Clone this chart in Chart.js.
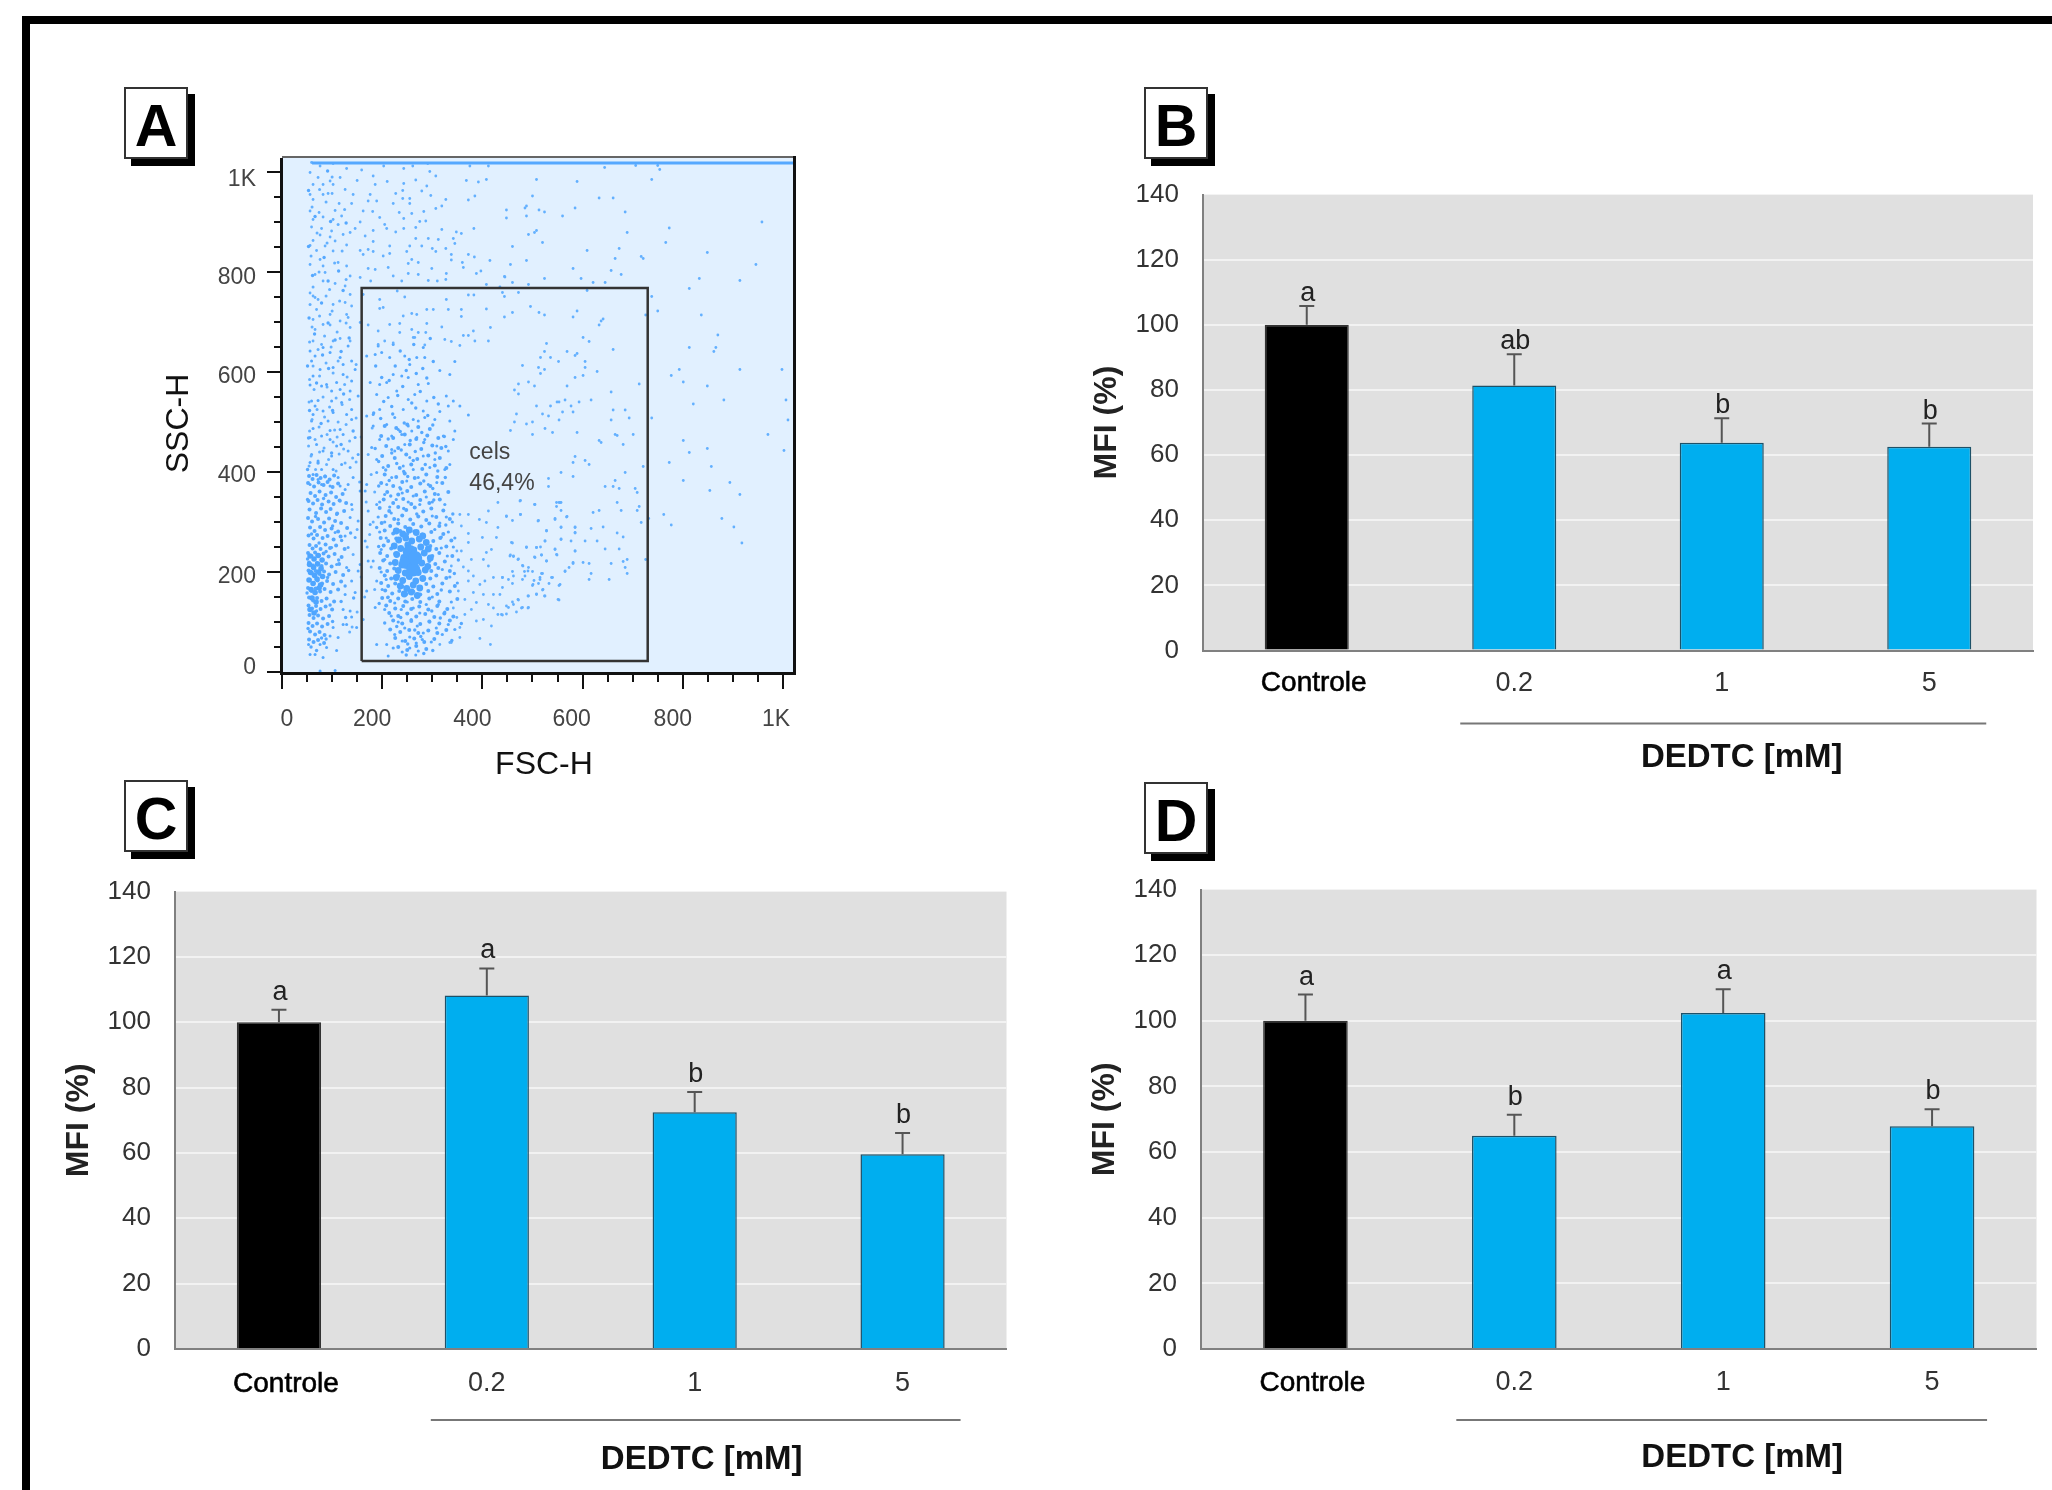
<!DOCTYPE html>
<html>
<head>
<meta charset="utf-8">
<title>MFI DEDTC</title>
<script src="https://cdn.jsdelivr.net/npm/chart.js@4"></script>
<style>
html, body { margin: 0; padding: 0; background: #fff; }
body { position: relative; width: 2052px; height: 1490px; overflow: hidden; font-family: "Liberation Sans", Arial, sans-serif; }
canvas { position: absolute; }
#frame { position: absolute; left: 22px; top: 16px; right: 0; bottom: 0; border-left: 8px solid #000; border-top: 8px solid #000; }
.tag { position: absolute; box-sizing: border-box; width: 64px; height: 72px; background: #fff; border: 2px solid #333; box-shadow: 7px 7px 0 #000; font-weight: bold; font-size: 59px; line-height: 74px; text-align: center; color: #000; }
</style>
</head>
<body>
<div id="frame"></div>
<div class="tag" style="left:124px;top:87px">A</div>
<div class="tag" style="left:1144px;top:87px">B</div>
<div class="tag" style="left:124px;top:780px">C</div>
<div class="tag" style="left:1144px;top:782px">D</div>
<canvas id="panelA" width="740" height="660" style="left:100px;top:131px"></canvas>
<canvas id="panelB" width="964" height="635" style="left:1088px;top:155px"></canvas>
<canvas id="panelC" width="960" height="638" style="left:60px;top:852px"></canvas>
<canvas id="panelD" width="966" height="640" style="left:1086px;top:850px"></canvas>
<script>
// bar panels
const categories = ['Controle', '0.2', '1', '5'];
const mfiB = [100, 81.4, 63.8, 62.6];
const errTopB = [105.8, 91, 71.3, 69.7];
const lettersB = ['a', 'ab', 'b', 'b'];
const mfiC = [100, 108.2, 72.5, 59.6];
const errTopC = [103.8, 116.5, 78.7, 66.1];
const lettersC = ['a', 'a', 'b', 'b'];
const mfiD = [100, 65, 102.4, 67.9];
const errTopD = [108, 71.4, 109.6, 73.1];
const lettersD = ['a', 'b', 'a', 'b'];

// scatter panel
const fscTicks = [0, 200, 400, 600, 800, 1000];
const sscTicks = [0, 200, 400, 600, 800, 1000];
const scatterTickLabels = ['0', '200', '400', '600', '800', '1K'];
const gateCorners = [[159, 22], [730, 22], [730, 768], [159, 768], [159, 22]];
const saturatedEdge = [[60, 1018], [1024, 1018]];
// single dots, read region by region from crops of the plot
const eventsUpperRight = [[644,1009],[706,1013],[750,1013],[754,1005],[508,985],[589,981],[738,985],[500,952],[633,948],[661,948],[448,924],[485,928],[488,932],[513,924],[524,920],[585,928],[685,920],[448,908],[488,912],[560,912],[958,900],[773,888],[689,879],[492,875],[504,879],[508,883],[520,859],[766,859],[460,851],[673,847],[609,843],[849,839],[665,827],[717,831],[721,827],[488,823],[456,815],[946,815],[581,807],[657,803],[677,795],[444,791],[524,787],[597,787],[833,787],[914,783],[460,779],[492,775],[621,779],[645,779],[813,767],[609,763],[440,759],[472,759],[444,751],[738,751],[496,731],[460,719],[513,719],[524,714],[589,722],[581,710],[444,710],[750,722],[726,714],[837,714],[641,706],[637,702],[633,694],[601,669],[613,661],[870,674],[528,657],[661,645],[813,649],[866,649],[862,641],[524,641],[569,641],[589,637],[585,633],[516,629],[536,629],[552,621],[605,621],[480,613],[512,609],[524,605],[605,609],[629,601],[793,605],[914,605],[998,605],[516,597],[601,593],[585,589],[777,593],[492,580],[472,576],[504,572],[569,572],[713,576],[801,580],[849,572],[464,564],[657,560],[472,556],[565,544],[549,540],[553,540],[593,540],[617,544],[882,544],[1006,544],[821,536],[508,532],[536,532],[577,532],[661,524],[685,524],[560,520],[581,520],[468,516],[520,516],[532,512],[693,508],[738,508],[553,504],[657,504],[1010,504],[464,500],[500,500],[488,496]];
const eventsLowerRight = [[525,487],[456,483],[500,475],[540,479],[589,479],[665,475],[669,473],[701,475],[970,475],[633,463],[637,459],[801,463],[681,455],[849,447],[1002,443],[813,439],[585,431],[605,423],[581,419],[613,415],[773,419],[721,411],[857,411],[557,399],[685,399],[581,391],[532,387],[665,383],[801,383],[894,379],[532,371],[645,371],[661,371],[673,367],[705,367],[709,359],[854,363],[914,355],[476,343],[553,339],[557,339],[669,339],[504,335],[548,331],[713,331],[557,323],[633,323],[677,323],[709,323],[621,319],[476,315],[448,311],[762,315],[569,311],[545,307],[732,307],[878,307],[460,303],[512,303],[717,299],[777,294],[557,290],[585,290],[641,290],[902,290],[617,287],[528,283],[669,278],[585,278],[557,266],[681,270],[525,262],[577,262],[605,262],[629,262],[460,258],[918,258],[488,250],[508,249],[516,250],[545,246],[645,246],[673,246],[585,242],[456,234],[462,231],[504,230],[518,234],[549,234],[472,226],[528,222],[601,219],[581,217],[613,217],[657,217],[681,221],[689,225],[726,225],[480,213],[492,209],[573,209],[685,209],[460,201],[484,201],[500,201],[565,201],[617,197],[689,197],[520,197],[540,189],[515,189],[440,189],[480,185],[452,185],[503,183],[613,185],[653,185],[460,177],[512,177],[533,177],[553,173],[500,173],[440,169],[520,164],[492,152],[508,156],[524,152],[553,144],[460,140],[472,144],[452,129],[480,129],[492,129],[468,120],[448,116],[440,114]];
const eventsUpperLeft = [[59,1019],[76,1012],[102,1017],[129,1007],[159,1004],[182,992],[203,1012],[243,1007],[261,1012],[291,1017],[295,1001],[307,992],[375,1012],[412,1012],[368,983],[392,980],[408,985],[267,984],[56,999],[72,989],[96,982],[116,989],[150,983],[186,975],[210,981],[243,977],[289,972],[279,962],[297,953],[385,952],[372,944],[62,975],[82,975],[102,975],[126,965],[142,955],[176,955],[227,957],[241,963],[255,947],[241,947],[56,955],[62,945],[82,955],[92,957],[100,957],[114,937],[139,937],[172,942],[189,942],[222,937],[255,937],[327,945],[319,932],[307,927],[56,922],[74,919],[106,923],[119,912],[162,922],[181,921],[195,909],[234,919],[259,917],[283,921],[287,902],[62,905],[82,910],[102,905],[156,900],[205,895],[243,907],[275,901],[59,890],[79,887],[99,882],[122,875],[136,879],[146,887],[182,883],[209,887],[227,880],[243,887],[267,889],[319,885],[348,880],[383,887],[76,874],[96,870],[166,872],[267,867],[312,865],[342,867],[62,863],[106,862],[182,861],[292,867],[358,877],[56,853],[86,852],[129,854],[156,843],[172,845],[215,852],[255,852],[279,852],[300,847],[327,847],[345,857],[69,843],[102,842],[182,841],[215,837],[249,841],[307,841],[338,835],[372,835],[384,830],[76,825],[112,819],[162,835],[202,832],[259,825],[272,819],[299,807],[338,824],[360,819],[415,823],[56,815],[82,812],[129,812],[172,807],[186,805],[212,809],[252,817],[362,809],[388,797],[397,802],[66,795],[86,799],[136,792],[156,789],[222,792],[252,797],[272,795],[328,797],[82,782],[106,777],[126,772],[177,782],[239,782],[292,783],[310,782],[327,785],[408,775],[445,790],[435,770],[56,758],[66,749],[62,752],[72,745],[102,735],[126,739],[136,755],[139,732],[162,755],[195,745],[230,762],[245,750],[289,725],[328,745],[372,754],[383,754],[69,725],[96,715],[129,715],[195,727],[202,729],[242,712],[259,717],[269,715],[302,725],[332,725],[358,725],[62,705],[82,695],[116,702],[132,709],[156,699],[172,694],[215,695],[235,697],[259,685],[289,697],[319,690],[358,711],[408,726],[66,685],[96,694],[136,689],[192,682],[222,658],[235,679],[272,679],[287,679],[362,673],[372,673],[382,682],[62,662],[79,655],[102,662],[116,667],[136,662],[192,655],[205,662],[262,669],[265,669],[285,654],[325,665],[338,661],[355,653],[412,662],[416,689],[385,662]];
const eventsMiddleLeft = [[56,642],[66,632],[82,649],[96,639],[116,629],[132,652],[139,622],[59,622],[76,605],[102,609],[122,615],[146,605],[62,592],[89,575],[109,579],[122,595],[139,582],[56,574],[79,572],[99,562],[116,565],[136,562],[152,552],[59,542],[72,543],[66,532],[99,542],[119,539],[139,525],[62,515],[82,522],[102,519],[129,515],[92,502],[59,502],[139,505],[116,485],[96,483],[62,487],[79,472],[122,475],[56,469],[96,465],[146,469],[69,455],[109,452],[132,442],[82,442],[59,435],[152,435],[99,432],[72,422],[119,415],[79,405],[56,419],[136,409],[102,405],[62,395],[86,392],[112,389],[142,389],[56,375],[79,375],[96,372],[116,372],[132,375],[72,385],[169,632],[186,635],[199,639],[215,629],[192,652],[222,655],[245,632],[269,629],[282,649],[285,629],[255,615],[345,621],[315,603],[335,595],[222,595],[239,592],[252,589],[176,579],[195,575],[209,579],[189,555],[229,562],[272,575],[292,577],[265,555],[252,545],[212,549],[328,552],[342,542],[332,532],[355,532],[289,542],[195,525],[242,525],[282,522],[169,512],[182,515],[315,521],[372,514],[225,509],[262,505],[285,509],[335,502],[305,505],[209,495],[252,492],[272,502],[232,485],[259,482],[182,492],[195,465],[219,472],[239,475],[269,469],[285,465],[322,472],[345,482],[342,465],[179,449],[219,445],[245,455],[309,452],[332,442],[189,425],[225,442],[255,429],[282,432],[305,425],[335,415],[202,409],[242,412],[262,405],[295,409],[325,405],[169,375],[189,399],[219,389],[249,382],[272,389],[292,375],[309,379],[209,375],[235,369]];
const eventsLowerMiddle = [[355,315],[372,315],[394,305],[412,322],[431,339],[475,342],[505,335],[448,312],[476,315],[511,302],[548,339],[555,339],[545,305],[568,310],[557,289],[585,289],[585,279],[528,282],[358,292],[408,299],[431,289],[372,277],[400,269],[428,269],[372,259],[458,259],[488,249],[508,249],[545,245],[585,242],[525,262],[557,265],[349,242],[358,242],[418,245],[408,239],[402,225],[378,225],[455,232],[462,232],[471,225],[505,229],[518,234],[528,222],[548,235],[581,219],[565,202],[338,212],[412,212],[362,210],[481,212],[491,202],[518,197],[485,192],[462,192],[372,202],[382,192],[440,189],[422,189],[405,182],[555,175],[538,189],[515,185],[501,175],[521,165],[551,145],[525,152],[508,155],[491,152],[471,145],[462,135],[491,128],[478,128],[448,132],[431,115],[438,115],[395,175],[372,182],[352,162],[382,159],[402,155],[422,155],[435,155],[365,145],[388,139],[412,135],[422,128],[378,125],[365,115],[388,102],[402,105],[418,92],[355,89],[342,128],[349,109],[338,59],[395,67],[416,55],[355,69],[315,55],[335,59]];
const eventsBandEdges = [[56,35],[66,35],[82,29],[76,2],[106,3],[53,55],[76,55],[89,49],[109,43],[96,72],[112,69],[129,95],[122,95],[139,110],[149,89],[102,89],[122,125],[136,122],[126,155],[146,159],[139,182],[152,202],[156,215],[129,209],[109,215],[99,249],[132,249],[106,279],[126,272],[146,269],[109,315],[136,309],[152,302],[116,342],[139,335],[156,362],[126,365],[166,362],[172,322],[189,335],[176,295],[166,262],[182,222],[172,222],[189,182],[169,162],[186,129],[189,55],[209,55],[212,32],[267,34]];
const eventsClusterEdges = [[195,340],[205,355],[215,330],[228,345],[240,358],[252,340],[262,352],[275,335],[288,350],[300,340],[312,355],[325,335],[192,310],[205,300],[218,318],[232,305],[300,312],[315,298],[328,310],[340,300],[195,280],[208,268],[305,285],[318,270],[332,280],[345,268],[198,245],[205,225],[318,248],[330,232],[342,250],[198,200],[208,185],[320,205],[335,190],[350,178],[200,165],[212,150],[225,138],[238,125],[250,140],[262,128],[275,118],[288,135],[300,150],[312,135],[325,120],[338,140],[205,125],[218,112],[232,100],[245,88],[258,105],[270,92],[282,78],[295,100],[308,88],[320,75],[332,95],[345,85],[225,75],[240,62],[255,70],[268,58],[280,65],[298,60],[222,48],[240,40],[255,48],[272,42]];
// crowded zones: dots can't be counted there, these follow the density seen in the crops
const bandCrowd = [[54,392],[61,386],[69,394],[77,388],[86,391],[95,385],[104,393],[52,378],[64,371],[73,379],[83,374],[91,380],[101,370],[112,377],[57,358],[66,352],[75,361],[87,354],[98,359],[108,350],[121,356],[53,342],[62,337],[71,344],[80,335],[93,341],[103,336],[115,343],[128,338],[55,325],[68,318],[78,327],[88,320],[97,326],[110,317],[124,322],[52,308],[60,301],[72,306],[84,299],[94,307],[106,302],[118,298],[56,289],[65,282],[76,290],[86,284],[99,287],[112,281],[130,288],[53,273],[63,267],[70,274],[81,268],[91,272],[103,265],[117,271],[55,254],[61,247],[68,252],[77,246],[87,255],[96,248],[108,253],[125,246],[52,238],[59,232],[66,239],[74,233],[83,237],[93,231],[105,236],[119,230],[54,219],[62,213],[70,218],[79,212],[88,217],[99,211],[114,216],[53,203],[60,197],[67,202],[75,196],[84,201],[94,195],[107,200],[122,194],[55,184],[63,178],[71,183],[80,177],[90,182],[102,176],[118,181],[52,168],[59,162],[67,167],[76,161],[85,166],[97,160],[112,165],[54,149],[62,143],[70,148],[79,142],[89,147],[104,141],[53,133],[60,127],[68,132],[77,126],[87,131],[100,125],[55,114],[63,108],[72,113],[82,107],[94,112],[53,98],[61,92],[70,97],[80,91],[91,96],[56,81],[66,75],[75,80],[85,74],[54,65],[63,60],[72,64],[84,58]];
const bandUpper = [[54,412],[67,405],[89,415],[108,402],[126,418],[58,432],[75,440],[93,425],[114,436],[141,428],[53,452],[84,448],[102,460],[123,446],[66,465],[90,475],[110,470],[135,462],[55,482],[74,490],[105,484],[128,495],[60,505],[85,510],[112,500],[148,508],[70,525],[95,530],[120,535],[54,540],[82,550],[108,548],[135,545],[64,565],[90,570],[125,575],[55,585],[75,592],[102,598],[130,590],[62,612],[88,618],[112,622],[148,615],[72,645],[98,650],[55,660],[85,672],[110,680],[60,690],[128,698],[75,712],[100,722],[56,735],[115,742],[88,752],[62,770],[95,765],[128,785],[74,800],[105,818],[58,832],[90,858],[120,842],[70,878],[112,895],[60,930],[88,940],[125,925],[75,965],[100,990]];
const bandGap = [[135,80],[150,120],[165,150],[158,190],[178,210],[142,235],[170,250],[150,285],[182,300],[140,325],[168,340],[155,380],[178,395],[148,420],[172,435],[158,470],[180,488],[140,90],[162,105],[185,165],[175,275],[185,360]];
const bandLoose = [[51,345],[67,311],[83,347],[101,292],[119,263],[137,278],[59,276],[74,258],[88,241],[113,224],[133,203],[51,226],[91,189],[126,172],[143,148],[50,158],[69,122],[96,134],[118,141],[52,87],[79,68],[101,101],[127,109],[58,50],[69,43],[88,66],[51,405],[72,418],[99,438],[118,455],[142,482],[53,468],[78,497],[101,523],[123,556],[55,523],[69,578],[93,607],[118,641],[51,612],[81,634],[106,664],[65,676],[92,698],[134,668],[54,708],[79,738],[122,763],[92,782],[61,793],[113,802],[53,851],[84,829],[97,901],[66,911],[128,898],[53,963],[91,1002]];
const bandCore = [[56,232],[64,226],[72,233],[80,224],[55,215],[63,209],[71,216],[78,207],[57,199],[65,193],[73,200],[81,191],[54,184],[62,177],[70,186],[77,174],[58,165],[66,159],[74,168],[60,148],[68,140],[56,125],[64,118]];
const clusterCrowd = [[205,492],[228,488],[250,495],[272,490],[295,486],[198,472],[222,468],[245,475],[268,466],[290,473],[312,468],[208,452],[232,448],[255,455],[278,446],[300,453],[318,448],[200,432],[225,428],[248,435],[270,426],[292,433],[315,428],[212,412],[235,408],[258,415],[280,406],[305,413],[328,408],[205,395],[228,390],[245,397],[265,388],[288,395],[310,390],[198,378],[222,372],[240,380],[258,370],[276,377],[296,372],[320,378],[210,360],[232,355],[250,362],[268,354],[285,361],[305,356],[332,360],[203,345],[222,338],[242,346],[258,336],[276,344],[294,338],[315,345],[195,328],[214,322],[232,330],[248,324],[265,329],[282,321],[298,327],[322,323],[207,312],[224,306],[240,313],[256,305],[272,311],[288,304],[308,310],[335,306],[199,298],[216,292],[232,297],[246,290],[262,296],[278,291],[294,297],[314,292],[205,283],[222,277],[236,282],[250,276],[264,281],[280,275],[298,280],[322,276],[197,268],[212,262],[228,267],[302,262],[316,268],[338,263],[203,253],[218,247],[296,252],[308,246],[328,251],[196,238],[210,232],[226,237],[300,232],[314,238],[340,232],[202,223],[216,217],[294,222],[306,216],[325,221],[195,208],[210,202],[224,207],[298,202],[312,208],[335,202],[205,193],[218,187],[232,192],[296,187],[308,193],[328,188],[198,178],[212,172],[226,177],[240,171],[288,176],[302,171],[320,177],[345,172],[206,163],[220,157],[234,162],[248,156],[262,161],[276,155],[292,162],[310,156],[335,161],[200,148],[216,142],[232,147],[246,141],[260,146],[276,140],[294,147],[314,141],[350,146],[208,133],[226,127],[242,132],[258,126],[274,131],[292,125],[310,132],[330,126],[214,118],[232,112],[250,117],[268,111],[286,116],[304,110],[324,117],[342,111],[222,103],[240,97],[258,102],[276,96],[294,101],[314,97],[335,103],[216,85],[236,80],[254,84],[272,78],[292,83],[310,78],[328,84],[226,68],[246,62],[264,67],[284,60],[304,66],[232,50],[250,44],[268,52],[288,46]];
const clusterLoose = [[193,372],[214,383],[237,366],[251,391],[283,382],[301,367],[326,389],[207,404],[229,417],[243,401],[262,423],[286,415],[311,402],[219,438],[238,444],[266,441],[283,459],[306,438],[327,451],[212,466],[236,481],[256,463],[279,479],[301,494],[324,471],[197,507],[221,516],[244,498],[267,528],[291,513],[312,536],[203,541],[231,553],[259,538],[276,561],[303,549],[214,583],[241,571],[268,597],[289,588],[226,612],[254,625],[281,607],[302,621],[236,642],[263,655],[296,667],[219,531],[248,603],[186,447],[193,421],[183,518],[199,589],[187,612],[217,352],[243,327],[269,316],[303,344],[327,294],[341,316],[193,251],[189,289],[211,149],[237,109],[265,84],[299,122],[318,164],[344,197],[352,224],[229,91],[251,56],[277,71],[316,108],[339,63],[358,97],[205,98],[194,137],[248,34],[283,37],[301,43]];
const clusterCore = [[228,282],[241,276],[254,284],[268,279],[281,272],[233,264],[247,268],[259,262],[274,266],[288,259],[224,252],[237,247],[251,254],[263,244],[277,250],[292,246],[229,235],[243,229],[256,237],[270,231],[284,238],[296,228],[226,219],[239,214],[252,222],[265,212],[279,218],[291,211],[232,203],[246,198],[259,206],[272,199],[286,204],[228,189],[241,183],[254,191],[267,182],[281,187],[236,172],[249,167],[262,174],[275,168],[244,156],[258,160],[270,153]];
const solidCores = [[248,220],[262,205],[255,240],[266,228]];

const FONT = '"Liberation Sans", Arial, sans-serif';

function toPoints(pairs) {
    return pairs.map(function(p) {
        return { x: p[0], y: p[1] };
    });
}

function dots(pairs, radius, color, order) {
    return {
        data: toPoints(pairs),
        showLine: false,
        pointRadius: radius,
        pointBorderWidth: 0,
        pointBackgroundColor: color,
        order: order
    };
}

// axes frame, tick marks and labels of the scatter panel
const scatterAxes = {
    id: 'scatterAxes',
    beforeDraw(chart) {
        const a = chart.chartArea, c = chart.ctx;
        c.fillStyle = '#e1f0ff';
        c.fillRect(a.left, a.top, a.right - a.left, a.bottom - a.top);
    },
    afterDraw(chart) {
        const a = chart.chartArea, c = chart.ctx;
        const xs = chart.scales.x, ys = chart.scales.y;
        c.save();
        c.fillStyle = '#666';
        c.fillRect(a.left, a.top - 2, a.right - a.left, 2);
        c.fillStyle = '#111';
        c.fillRect(a.left - 2, a.top, 3, a.bottom - a.top + 2);
        c.fillRect(a.left - 2, a.bottom, a.right - a.left + 2, 3);
        c.fillRect(a.right - 3, a.top - 2, 3, a.bottom - a.top + 5);
        for (let v = 0; v <= 1000; v += 50) {
            const big = v % 200 === 0;
            c.fillRect(Math.round(xs.getPixelForValue(v)) - 1, a.bottom + 2, 2, big ? 15 : 8);
            c.fillRect(a.left - (big ? 15 : 8), Math.round(ys.getPixelForValue(v)) - 1, big ? 15 : 8, 2);
        }
        c.fillStyle = '#444';
        c.font = '23px ' + FONT;
        c.textBaseline = 'middle';
        c.textAlign = 'center';
        const xShift = [5, -10, -10, -11, -10, -7];
        fscTicks.forEach(function(v, i) {
            c.fillText(scatterTickLabels[i], xs.getPixelForValue(v) + xShift[i], a.bottom + 48);
        });
        c.textAlign = 'right';
        const yShift = [-4, 5, 4, 5, 6, 8];
        sscTicks.forEach(function(v, i) {
            c.fillText(scatterTickLabels[i], a.left - 26, ys.getPixelForValue(v) + yShift[i]);
        });
        c.textAlign = 'left';
        c.fillText('cels', xs.getPixelForValue(374), ys.getPixelForValue(438));
        c.fillText('46,4%', xs.getPixelForValue(374), ys.getPixelForValue(376));
        c.fillStyle = '#111';
        c.font = '32px ' + FONT;
        c.textAlign = 'center';
        c.fillText('FSC-H', a.left + 262, a.bottom + 93);
        c.translate(a.left - 103, ys.getPixelForValue(497));
        c.rotate(-Math.PI / 2);
        c.fillText('SSC-H', 0, 0);
        c.restore();
    }
};

new Chart(document.getElementById('panelA').getContext('2d'), {
    type: 'scatter',
    data: {
        datasets: [
            { data: toPoints(gateCorners), showLine: true, borderColor: '#333', borderWidth: 2.5, pointRadius: 0, order: 0 },
            { data: toPoints(saturatedEdge), showLine: true, borderColor: '#55a8ff', borderWidth: 3, pointRadius: 0, order: 1 },
            dots(solidCores, 7, '#4ea5ff', 2),
            dots(clusterCore, 3.4, '#4ea5ff', 2),
            dots(bandCore, 2.8, '#4ea5ff', 2),
            dots(clusterCrowd, 2, '#55a8ff', 3),
            dots(clusterLoose, 1.7, '#55a8ff', 3),
            dots(bandCrowd, 2, '#55a8ff', 4),
            dots(bandLoose, 1.7, '#55a8ff', 4),
            dots(bandUpper, 1.5, '#63b0ff', 4),
            dots(bandGap, 1.5, '#63b0ff', 4),
            dots(eventsUpperRight, 1.4, '#63b0ff', 5),
            dots(eventsLowerRight, 1.4, '#63b0ff', 6),
            dots(eventsUpperLeft, 1.4, '#63b0ff', 7),
            dots(eventsMiddleLeft, 1.5, '#55a8ff', 8),
            dots(eventsLowerMiddle, 1.4, '#63b0ff', 9),
            dots(eventsBandEdges, 1.5, '#55a8ff', 10),
            dots(eventsClusterEdges, 1.6, '#55a8ff', 11)
        ]
    },
    options: {
        responsive: false,
        animation: false,
        layout: { padding: { left: 182, right: 44, top: 27, bottom: 119 } },
        plugins: { legend: { display: false }, tooltip: { enabled: false } },
        scales: {
            x: { type: 'linear', display: false, min: 0, max: 1026 },
            y: { type: 'linear', display: false, min: 0, max: 1028 }
        }
    },
    plugins: [scatterAxes]
});

function barPanel(canvasId, values, errTops, letters, opt) {
    // whiskers, letters, category labels and the DEDTC bracket
    const decor = {
        id: 'decor',
        beforeDraw(chart) {
            const a = chart.chartArea;
            chart.ctx.fillStyle = '#e0e0e0';
            chart.ctx.fillRect(a.left, a.top, a.right - a.left, a.bottom - a.top);
        },
        afterDatasetsDraw(chart) {
            const c = chart.ctx, a = chart.chartArea;
            const xs = chart.scales.x, ys = chart.scales.y;
            c.save();
            c.textAlign = 'center';
            values.forEach(function(v, i) {
                const x = xs.getPixelForValue(i);
                const y0 = ys.getPixelForValue(v), y1 = ys.getPixelForValue(errTops[i]);
                c.strokeStyle = '#555';
                c.lineWidth = 2;
                c.beginPath();
                c.moveTo(x, y0);
                c.lineTo(x, y1);
                c.moveTo(x - 7.5, y1);
                c.lineTo(x + 7.5, y1);
                c.stroke();
                c.fillStyle = '#222';
                c.font = '27px ' + FONT;
                c.textBaseline = 'alphabetic';
                c.fillText(letters[i], x + 1, y1 - opt.letterGap);
                c.textBaseline = 'middle';
                if (i === 0) {
                    c.fillStyle = '#000';
                    c.strokeStyle = '#000';
                    c.lineWidth = 0.6;
                    c.font = '28px ' + FONT;
                    c.fillText(categories[i], x + 7, a.bottom + opt.labelDrop);
                    c.strokeText(categories[i], x + 7, a.bottom + opt.labelDrop);
                } else {
                    c.fillStyle = '#333';
                    c.font = '27px ' + FONT;
                    c.fillText(categories[i], x, a.bottom + opt.labelDrop);
                }
            });
            c.strokeStyle = '#777';
            c.lineWidth = 2;
            c.beginPath();
            c.moveTo(xs.getPixelForValue(1) - opt.bracketLeft, a.bottom + opt.bracketDrop);
            c.lineTo(xs.getPixelForValue(3) + opt.bracketRight, a.bottom + opt.bracketDrop);
            c.stroke();
            c.fillStyle = '#111';
            c.font = 'bold 33px ' + FONT;
            c.fillText('DEDTC [mM]', xs.getPixelForValue(2) + opt.titleShift, a.bottom + opt.titleDrop);
            c.restore();
        }
    };

    new Chart(document.getElementById(canvasId).getContext('2d'), {
        type: 'bar',
        data: {
            labels: categories,
            datasets: [{
                data: values,
                backgroundColor: ['#000', '#00aeef', '#00aeef', '#00aeef'],
                borderColor: ['#333', '#1d5168', '#1d5168', '#1d5168'],
                borderWidth: 1.5,
                barPercentage: 0.405,
                categoryPercentage: 1
            }]
        },
        options: {
            responsive: false,
            animation: false,
            layout: { padding: { left: 0, right: opt.right, top: 20, bottom: 0 } },
            plugins: { legend: { display: false }, tooltip: { enabled: false } },
            scales: {
                x: {
                    ticks: { display: false },
                    grid: { display: false },
                    border: { color: '#808080', width: 2 },
                    afterFit: function(scale) { scale.height = opt.below; }
                },
                y: {
                    min: 0,
                    max: 140,
                    ticks: { stepSize: 20, padding: 24, color: '#333', font: { family: FONT, size: 26 } },
                    grid: {
                        drawTicks: false,
                        lineWidth: 2,
                        color: function(ctx) {
                            const v = ctx.tick.value;
                            return v === 0 || v === 140 ? 'rgba(0,0,0,0)' : '#f2f2f2';
                        }
                    },
                    border: { color: '#808080', width: 2 },
                    title: { display: true, text: 'MFI (%)', color: '#222', padding: 0, font: { family: FONT, size: 32, weight: 'bold' } },
                    afterFit: function(scale) { scale.width = 115; }
                }
            }
        },
        plugins: [decor]
    });
}

barPanel('panelB', mfiB, errTopB, lettersB, { right: 19, below: 139.5, letterGap: 5, labelDrop: 33, bracketLeft: 54, bracketRight: 57, bracketDrop: 73, titleShift: 20, titleDrop: 107 });
barPanel('panelC', mfiC, errTopC, lettersC, { right: 13.5, below: 141, letterGap: 10, labelDrop: 35, bracketLeft: 56, bracketRight: 58, bracketDrop: 71, titleShift: 7, titleDrop: 111 });
barPanel('panelD', mfiD, errTopD, lettersD, { right: 15.5, below: 141, letterGap: 10, labelDrop: 34, bracketLeft: 58, bracketRight: 55, bracketDrop: 71, titleShift: 19, titleDrop: 109 });
</script>
</body>
</html>
